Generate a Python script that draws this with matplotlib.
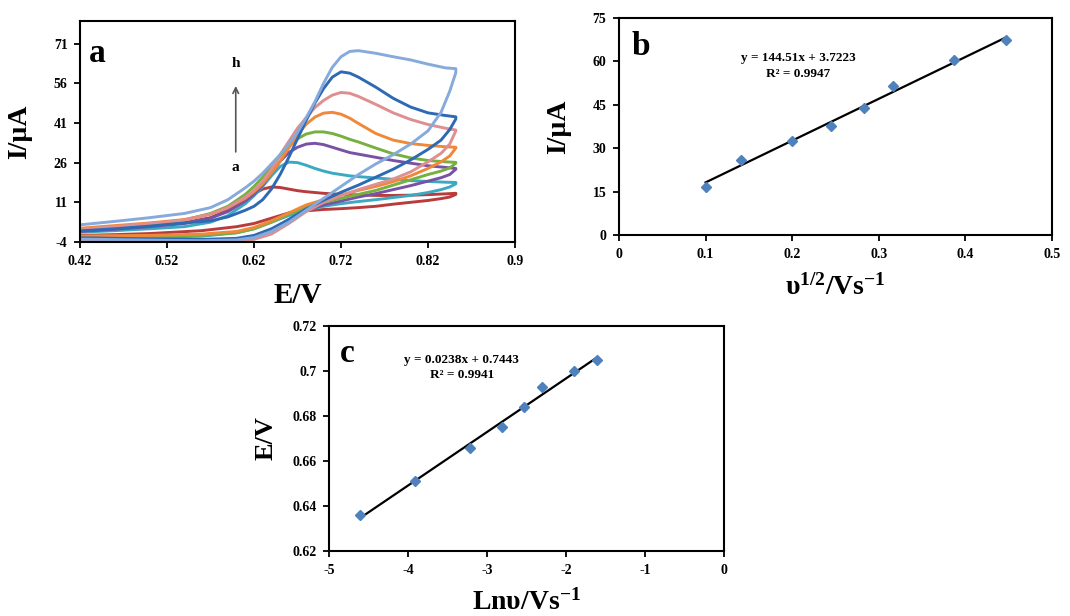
"""
Woltamperogramy (a), zaleznosc I od v^1/2 (b) i E od ln v (c).
"""

import numpy as np
import matplotlib
matplotlib.use("Agg")
import matplotlib.pyplot as plt
from matplotlib.ticker import FixedLocator, FixedFormatter

# --- dane panel a: krzywe CV (skan w przod i powrotny) ---
E_fwd = [0.42, 0.46, 0.50, 0.54, 0.57, 0.59, 0.61, 0.62, 0.63, 0.64, 0.65, 0.66, 0.67,
         0.68, 0.69, 0.70, 0.71, 0.72, 0.73, 0.74, 0.76, 0.78, 0.80, 0.82, 0.84, 0.852]
E_rev = [0.852, 0.845, 0.835, 0.82, 0.80, 0.78, 0.76, 0.74, 0.72, 0.70, 0.68, 0.66,
         0.64, 0.62, 0.60, 0.56, 0.50, 0.46, 0.42]

I_fwd_a = [0.3, 1.0, 2.0, 3.3, 5.2, 8.0, 12.0, 14.2, 16.0, 16.8, 16.6, 16.0, 15.4,
           15.0, 14.7, 14.4, 14.2, 14.0, 13.9, 13.8, 13.6, 13.6, 13.7, 13.9, 14.2, 14.4]
I_rev_a = [14.0, 13.0, 12.4, 11.7, 11.0, 10.3, 9.5, 9.0, 8.6, 8.3, 7.8, 7.0, 5.0, 3.0,
           1.8, 0.3, -0.8, -1.2, -1.5]
I_fwd_b = [-0.3, 0.3, 1.0, 1.8, 3.5, 6.0, 10.5, 13.5, 17.0, 21.0, 24.5, 26.2, 26.0,
           25.0, 23.8, 22.8, 22.0, 21.5, 21.0, 20.7, 20.2, 19.7, 19.2, 18.9, 18.6, 18.5]
I_rev_b = [18.0, 16.8, 15.8, 14.7, 13.6, 12.8, 12.0, 11.3, 10.5, 9.5, 8.0, 6.0, 3.5, 1.0,
           -0.5, -1.8, -2.2, -2.3, -2.4]
I_fwd_c = [0.0, 0.8, 1.8, 3.0, 5.0, 7.5, 11.5, 14.0, 17.5, 22.0, 26.5, 29.8, 31.8,
           33.0, 33.3, 32.8, 31.8, 30.8, 29.8, 29.2, 28.0, 26.8, 25.8, 24.8, 24.2, 23.8]
I_rev_c = [23.5, 21.5, 20.3, 19.0, 17.3, 15.8, 14.3, 13.0, 11.5, 10.0, 8.0, 4.5, 0.5, -2.0,
           -3.0, -3.3, -3.2, -3.0, -2.8]
I_fwd_d = [0.5, 1.5, 2.8, 4.3, 6.8, 9.5, 14.0, 17.0, 20.5, 24.5, 28.5, 32.0, 35.0,
           36.8, 37.6, 37.6, 37.0, 36.0, 34.8, 33.8, 31.5, 29.3, 27.8, 26.8, 26.3, 26.1]
I_rev_d = [25.8, 24.0, 22.8, 21.5, 19.5, 17.5, 15.5, 14.0, 12.5, 11.0, 9.0, 6.5, 3.5, 1.0,
           -0.5, -1.5, -1.8, -1.9, -2.0]
I_fwd_e = [1.2, 2.2, 3.2, 4.5, 6.5, 9.0, 12.5, 15.0, 18.0, 22.0, 26.5, 31.5, 36.5,
           40.5, 43.2, 44.7, 45.0, 44.3, 42.8, 40.8, 37.0, 34.5, 33.2, 32.5, 32.0, 31.8]
I_rev_e = [31.5, 28.5, 26.3, 23.8, 21.0, 18.8, 17.0, 15.5, 13.8, 12.0, 10.0, 7.0, 4.0, 1.5,
           0.0, -1.0, -1.5, -1.6, -1.7]
I_fwd_f = [0.8, 1.8, 3.0, 4.3, 6.5, 9.0, 13.0, 15.5, 19.0, 23.5, 29.0, 34.0, 39.0,
           43.0, 46.8, 49.5, 51.5, 52.5, 52.2, 51.0, 48.0, 44.8, 42.3, 40.4, 39.0, 38.3]
I_rev_f = [38.0, 33.0, 29.5, 26.3, 22.5, 19.8, 17.8, 15.8, 13.5, 11.0, 7.5, 3.0, -1.0, -3.0,
           -3.5, -3.6, -3.4, -3.2, -3.0]
I_fwd_g = [0.2, 1.0, 2.0, 3.2, 4.0, 5.5, 8.0, 9.5, 12.0, 16.0, 21.5, 28.0, 35.0,
           42.0, 48.5, 54.0, 58.3, 60.3, 59.8, 58.3, 54.5, 50.3, 47.0, 44.8, 43.8, 43.3]
I_rev_g = [42.5, 38.5, 34.5, 31.0, 27.0, 23.5, 20.5, 17.5, 14.8, 11.8, 8.5, 4.5, 1.0, -1.5,
           -2.6, -3.0, -2.8, -2.6, -2.4]
I_fwd_h = [2.5, 3.8, 5.2, 6.8, 9.0, 12.0, 16.5, 19.0, 22.0, 25.5, 29.0, 33.0, 37.5,
           43.0, 49.0, 56.0, 62.0, 66.0, 68.0, 68.3, 67.3, 66.0, 64.8, 63.2, 61.8, 61.5]
I_rev_h = [60.0, 53.0, 45.0, 38.0, 33.0, 29.0, 25.5, 21.5, 17.0, 12.5, 8.0, 3.5, 0.0, -2.3,
           -3.2, -3.5, -3.3, -3.1, -2.9]

# --- dane panel b i c ---
sqrt_v = [0.100, 0.141, 0.200, 0.245, 0.283, 0.316, 0.387, 0.447]
I_peak = [16.5, 26.0, 32.5, 37.5, 44.0, 51.5, 60.5, 67.5]
ln_v = [-4.61, -3.91, -3.22, -2.81, -2.53, -2.30, -1.90, -1.61]
E_peak = [0.636, 0.651, 0.666, 0.675, 0.684, 0.693, 0.700, 0.705]
fit_b = (144.51, 3.7223)
fit_c = (0.0238, 0.7443)

plt.rcParams['font.family'] = ['Liberation Serif', 'DejaVu Serif']
plt.rcParams['font.weight'] = 'bold'
plt.rcParams['axes.labelweight'] = 'bold'
plt.rcParams['axes.unicode_minus'] = False
plt.rcParams['mathtext.fontset'] = 'custom'
plt.rcParams['mathtext.rm'] = 'Liberation Serif:bold'
plt.rcParams['mathtext.bf'] = 'Liberation Serif:bold'
plt.rcParams['mathtext.it'] = 'Liberation Serif:bold:italic'


def style_axes(ax, xt, xl, yt, yl):
    ax.xaxis.set_major_locator(FixedLocator(xt))
    ax.xaxis.set_major_formatter(FixedFormatter(xl))
    ax.yaxis.set_major_locator(FixedLocator(yt))
    ax.yaxis.set_major_formatter(FixedFormatter(yl))
    ax.tick_params(direction='out', length=4, width=1.3, labelsize=10, pad=5)
    for s in ax.spines.values():
        s.set_linewidth(1.5)
        s.set_color('black')


fig = plt.figure(figsize=(10.7, 6.16), dpi=100)

# ---------------- panel a ----------------
ax1 = fig.add_axes([0.0748, 0.6071, 0.4065, 0.3588])
curves = [(I_fwd_a, I_rev_a, '#b83c3c'), (I_fwd_b, I_rev_b, '#3ca9c2'),
          (I_fwd_c, I_rev_c, '#7a52a4'), (I_fwd_d, I_rev_d, '#76b041'),
          (I_fwd_e, I_rev_e, '#f0883a'), (I_fwd_f, I_rev_f, '#df8f8f'),
          (I_fwd_g, I_rev_g, '#2e69b3'), (I_fwd_h, I_rev_h, '#86aadb')]
for i_f, i_r, col in curves:
    ax1.plot(E_fwd + E_rev, i_f + i_r, color=col, linewidth=2.1)
ax1.set_xlim(0.42, 0.92)
ax1.set_ylim(-4, 79.5)
style_axes(ax1, [0.42, 0.52, 0.62, 0.72, 0.82, 0.92],
           ['0.42', '0.52', '0.62', '0.72', '0.82', '0.9'],
           [-4, 11, 26, 41, 56, 71], ['-4', '11', '26', '41', '56', '71'])
ax1.set_xlabel('E/V', fontsize=21)
ax1.xaxis.set_label_coords(0.5, -0.18)
ax1.set_ylabel('I/µA', fontsize=20)
ax1.yaxis.set_label_coords(-0.11, 0.5)
ax1.text(0.04, 0.855, 'a', transform=ax1.transAxes, fontsize=24,
         ha='center', va='center')
ax1.annotate('', xy=(0.599, 56.0), xytext=(0.599, 29.0),
             arrowprops=dict(arrowstyle='->', color='#555555', lw=1.2))
ax1.text(0.599, 63.4, 'h', fontsize=11, ha='center', va='center')
ax1.text(0.599, 24.3, 'a', fontsize=11, ha='center', va='center')

# ---------------- panel b ----------------
ax2 = fig.add_axes([0.5785, 0.6185, 0.4047, 0.3523])
xb = np.array([min(sqrt_v), max(sqrt_v)])
ax2.plot(xb, fit_b[0] * xb + fit_b[1], color='black', linewidth=1.6)
ax2.plot(sqrt_v, I_peak, 'D', color='#4f81bd', markersize=5.5)
ax2.set_xlim(0, 0.5)
ax2.set_ylim(0, 75)
style_axes(ax2, [0, 0.1, 0.2, 0.3, 0.4, 0.5],
           ['0', '0.1', '0.2', '0.3', '0.4', '0.5'],
           [0, 15, 30, 45, 60, 75], ['0', '15', '30', '45', '60', '75'])
ax2.set_xlabel(r'υ$^{1/2}$/Vs$^{-1}$', fontsize=20)
ax2.xaxis.set_label_coords(0.5, -0.18)
ax2.set_ylabel('I/µA', fontsize=20)
ax2.yaxis.set_label_coords(-0.11, 0.5)
ax2.text(0.05, 0.87, 'b', transform=ax2.transAxes, fontsize=24,
         ha='center', va='center')
ax2.text(0.207, 58.4, 'y = 144.51x + 3.7223\nR² = 0.9947', fontsize=9.5,
         ha='center', va='center', linespacing=1.4)

# ---------------- panel c ----------------
ax3 = fig.add_axes([0.3075, 0.1055, 0.3692, 0.3653])
xc = np.array([min(ln_v), max(ln_v)])
ax3.plot(xc, fit_c[0] * xc + fit_c[1], color='black', linewidth=1.6)
ax3.plot(ln_v, E_peak, 'D', color='#4f81bd', markersize=5.5)
ax3.set_xlim(-5, 0)
ax3.set_ylim(0.62, 0.72)
style_axes(ax3, [-5, -4, -3, -2, -1, 0], ['-5', '-4', '-3', '-2', '-1', '0'],
           [0.62, 0.64, 0.66, 0.68, 0.70, 0.72],
           ['0.62', '0.64', '0.66', '0.68', '0.7', '0.72'])
ax3.set_xlabel(r'Lnυ/Vs$^{-1}$', fontsize=20)
ax3.xaxis.set_label_coords(0.5, -0.17)
ax3.set_ylabel('E/V', fontsize=19)
ax3.yaxis.set_label_coords(-0.13, 0.5)
ax3.text(0.046, 0.876, 'c', transform=ax3.transAxes, fontsize=24,
         ha='center', va='center')
ax3.text(-3.32, 0.7015, 'y = 0.0238x + 0.7443\nR² = 0.9941', fontsize=9.5,
         ha='center', va='center', linespacing=1.4)

fig.savefig('out.png', dpi=100)
